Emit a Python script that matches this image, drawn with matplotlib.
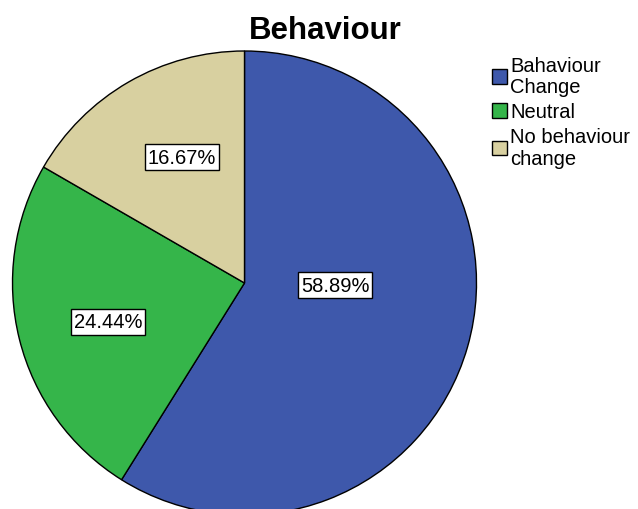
import matplotlib
matplotlib.use("Agg")
import matplotlib.pyplot as plt

plt.rcParams['font.family'] = ['Liberation Sans', 'DejaVu Sans']

categories = ['Bahaviour\nChange', 'Neutral', 'No behaviour\nchange']
percents = [58.89, 24.44, 16.67]
labels = ['58.89%', '24.44%', '16.67%']
colors = ['#3e58ab', '#35b54a', '#d8d0a0']

fig = plt.figure(figsize=(6.38, 5.10), dpi=100)
ax = fig.add_axes([0, 0, 1, 1])

# pie centre / radius in pixel units
cx, cy, r = 244.5, 226, 232
wedges, _ = ax.pie(percents, colors=colors, startangle=90, counterclock=False,
                   center=(cx, cy), radius=r, frame=True,
                   wedgeprops=dict(edgecolor='black', linewidth=1))
ax.set_xlim(0, 638)
ax.set_ylim(0, 510)
ax.set_aspect('equal')
ax.axis('off')

# label positions (pixel units, y up)
label_pos = [(335, 224), (108, 187), (182, 352)]
for (x, y), t in zip(label_pos, labels):
    ax.text(x, y, t, ha='center', va='center', fontsize=14.5,
            bbox=dict(boxstyle='square,pad=0.15', fc='white', ec='black', lw=1))

ax.text(325, 479, 'Behaviour', ha='center', va='center', fontsize=22.5, fontweight='bold')

leg = fig.legend(wedges, categories, loc='upper left',
                 bbox_to_anchor=(492 / 638, 1 - 57 / 510),
                 frameon=False, fontsize=14.5, handlelength=0.75, handleheight=0.75,
                 handletextpad=0.15, labelspacing=0.3, borderpad=0, borderaxespad=0)
for t in leg.get_texts():
    t.set_linespacing(1.15)

fig.savefig('out.png', dpi=100)
